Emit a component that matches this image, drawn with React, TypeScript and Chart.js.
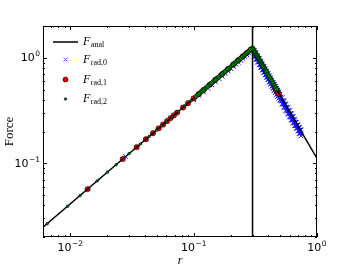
import React, { useEffect, useRef } from 'react';
import { Chart, registerables } from 'chart.js';

Chart.register(...registerables);

// ---- axis limits & tick labels ----
const xMin = 0.006;
const xMax = 1;
const yMin = 0.02;
const yMax = 2;
const xMajor = [0.01, 0.1, 1];
const xTickExp = ['\u22122', '\u22121', '0'];
const yMajor = [0.1, 1];
const yTickExp = ['\u22121', '0'];
const tickBase = '10';

// ---- series ----
const analR = [0.006, 0.3, 1.0];
const analF = [0.02472, 1.236, 0.1112];
const vlineR = [0.3, 0.3];
const vlineF = [0.02, 2];

const rad0R = [0.028, 0.10, 0.11, 0.12, 0.13, 0.14, 0.15, 0.16, 0.17, 0.18, 0.19, 0.20, 0.21, 0.22, 0.23, 0.24, 0.25, 0.26, 0.27, 0.28, 0.29, 0.30,
  0.31, 0.31, 0.31, 0.32, 0.32, 0.32, 0.33, 0.33, 0.33, 0.34, 0.34, 0.34, 0.35, 0.35, 0.35, 0.36, 0.36, 0.36, 0.37, 0.37, 0.37,
  0.38, 0.38, 0.38, 0.39, 0.39, 0.39, 0.40, 0.40, 0.40, 0.41, 0.41, 0.41, 0.42, 0.42, 0.42, 0.43, 0.43, 0.43, 0.44, 0.44, 0.44,
  0.45, 0.45, 0.45, 0.46, 0.46, 0.46, 0.47, 0.47, 0.47, 0.48, 0.48, 0.48, 0.49, 0.49, 0.49, 0.50, 0.50, 0.50,
  0.52, 0.52, 0.52, 0.54, 0.54, 0.54, 0.56, 0.56, 0.56, 0.58, 0.58, 0.58, 0.60, 0.60, 0.60, 0.62, 0.62, 0.62,
  0.64, 0.64, 0.64, 0.66, 0.66, 0.66, 0.68, 0.68, 0.68, 0.70, 0.70, 0.70, 0.72, 0.72, 0.72, 0.74, 0.74, 0.74,
  0.315, 0.315, 0.325, 0.325, 0.335, 0.335, 0.345, 0.345, 0.355, 0.355, 0.365, 0.365, 0.375, 0.375, 0.385, 0.385,
  0.395, 0.395, 0.405, 0.405, 0.415, 0.415, 0.425, 0.425, 0.435, 0.435, 0.445, 0.445, 0.455, 0.455, 0.465, 0.465,
  0.475, 0.475, 0.485, 0.485, 0.495, 0.495, 0.51, 0.51, 0.53, 0.53, 0.55, 0.55, 0.57, 0.57, 0.59, 0.59,
  0.61, 0.61, 0.63, 0.63, 0.65, 0.65, 0.67, 0.67, 0.69, 0.69, 0.71, 0.71, 0.73, 0.73];
const rad0F = [0.116, 0.40, 0.44, 0.475, 0.515, 0.555, 0.59, 0.635, 0.67, 0.715, 0.75, 0.79, 0.83, 0.87, 0.91, 0.95, 0.99, 1.03, 1.065, 1.11, 1.145, 1.19,
  1.175, 1.100, 1.035, 1.103, 1.032, 0.970, 1.037, 0.970, 0.912, 0.978, 0.914, 0.859, 0.922, 0.862, 0.811, 0.872, 0.815, 0.767, 0.825, 0.771, 0.726,
  0.782, 0.731, 0.688, 0.742, 0.694, 0.653, 0.706, 0.660, 0.621, 0.672, 0.628, 0.591, 0.640, 0.598, 0.563, 0.610, 0.571, 0.537, 0.583, 0.545, 0.513,
  0.557, 0.521, 0.490, 0.534, 0.499, 0.470, 0.511, 0.478, 0.450, 0.490, 0.459, 0.432, 0.470, 0.440, 0.414, 0.451, 0.422, 0.397,
  0.417, 0.390, 0.367, 0.387, 0.362, 0.341, 0.361, 0.337, 0.317, 0.336, 0.314, 0.295, 0.314, 0.293, 0.276, 0.294, 0.274, 0.258,
  0.275, 0.257, 0.242, 0.259, 0.242, 0.228, 0.244, 0.228, 0.214, 0.230, 0.216, 0.203, 0.218, 0.204, 0.192, 0.206, 0.193, 0.182,
  1.110, 1.031, 1.042, 0.969, 0.981, 0.912, 0.925, 0.859, 0.873, 0.811, 0.827, 0.768, 0.783, 0.728, 0.743, 0.690,
  0.706, 0.656, 0.671, 0.624, 0.640, 0.594, 0.610, 0.567, 0.582, 0.541, 0.556, 0.517, 0.532, 0.494, 0.509, 0.473,
  0.488, 0.454, 0.468, 0.435, 0.449, 0.418, 0.423, 0.393, 0.392, 0.364, 0.364, 0.338, 0.339, 0.315, 0.316, 0.294,
  0.296, 0.275, 0.277, 0.258, 0.261, 0.242, 0.245, 0.228, 0.231, 0.215, 0.218, 0.203, 0.207, 0.192];

const rad1R = [0.0138, 0.0266, 0.0345, 0.041, 0.0468, 0.052, 0.0565, 0.061, 0.065, 0.069, 0.0733, 0.082, 0.09, 0.10, 0.11, 0.12, 0.135, 0.15, 0.17, 0.19, 0.21, 0.23, 0.25, 0.27, 0.29,
  0.46, 0.47, 0.48, 0.49];
const rad1F = [0.0569, 0.1096, 0.1421, 0.1689, 0.1928, 0.2142, 0.2328, 0.2513, 0.2678, 0.2843, 0.3020, 0.3378, 0.3708, 0.412, 0.453, 0.494, 0.556, 0.618, 0.700, 0.783, 0.865, 0.948, 1.030, 1.112, 1.195,
  0.515, 0.493, 0.473, 0.454];

const rad2R = [0.0065, 0.0095, 0.012, 0.0165, 0.02, 0.0235, 0.03, 0.037, 0.0435, 0.05, 0.055, 0.06, 0.067, 0.075, 0.085, 0.095, 0.105, 0.115, 0.125, 0.135, 0.145, 0.155, 0.165, 0.175, 0.185, 0.195,
  0.205, 0.215, 0.225, 0.235, 0.245, 0.255, 0.265, 0.275, 0.285, 0.295, 0.30,
  0.11, 0.12, 0.13, 0.14, 0.15, 0.16, 0.17, 0.18, 0.19, 0.21, 0.22, 0.23, 0.24, 0.25, 0.26, 0.27, 0.28, 0.29,
  0.305, 0.31, 0.315, 0.32, 0.325, 0.33, 0.335, 0.34, 0.345, 0.35, 0.355, 0.36, 0.365, 0.37, 0.375, 0.38, 0.385, 0.39, 0.40, 0.41, 0.42, 0.43, 0.44, 0.45, 0.46, 0.47];
const rad2F = [0.0268, 0.0391, 0.0494, 0.068, 0.0824, 0.0968, 0.1236, 0.1524, 0.1792, 0.206, 0.2266, 0.2472, 0.276, 0.309, 0.350, 0.391, 0.433, 0.474, 0.515, 0.556, 0.597, 0.639, 0.680, 0.721, 0.762, 0.803,
  0.845, 0.886, 0.927, 0.968, 1.009, 1.051, 1.092, 1.133, 1.174, 1.215, 1.236,
  0.453, 0.494, 0.536, 0.577, 0.618, 0.659, 0.700, 0.742, 0.783, 0.865, 0.906, 0.948, 0.989, 1.030, 1.071, 1.112, 1.154, 1.195,
  1.195, 1.157, 1.121, 1.086, 1.053, 1.021, 0.991, 0.962, 0.934, 0.908, 0.882, 0.858, 0.835, 0.812, 0.791, 0.770, 0.750, 0.731, 0.695, 0.662, 0.630, 0.601, 0.574, 0.549, 0.526, 0.503];

const legendSubs = ['anal', 'rad,0', 'rad,1', 'rad,2'];

const pts = (xs: number[], ys: number[]) => xs.map((x, i) => ({ x, y: ys[i] }));

function logTicks(min: number, max: number) {
  const out: { value: number; major: boolean }[] = [];
  const e0 = Math.floor(Math.log10(min));
  const e1 = Math.ceil(Math.log10(max));
  for (let e = e0; e <= e1; e++) {
    for (let m = 1; m <= 9; m++) {
      const v = parseFloat((m * Math.pow(10, e)).toPrecision(6));
      if (v >= min * 0.9999 && v <= max * 1.0001) out.push({ value: v, major: m === 1 });
    }
  }
  return out;
}

const BASE_FONT = '11px "DejaVu Sans"';
const EXP_FONT = '7.5px "DejaVu Sans"';

function measureLabel(ctx: CanvasRenderingContext2D, exp: string) {
  ctx.font = BASE_FONT;
  const wb = ctx.measureText(tickBase).width;
  ctx.font = EXP_FONT;
  const we = ctx.measureText(exp).width;
  return { wb, we, w: wb + we + 0.5 };
}

function drawLabel(ctx: CanvasRenderingContext2D, x: number, baseline: number, exp: string) {
  const m = measureLabel(ctx, exp);
  ctx.textBaseline = 'alphabetic';
  ctx.textAlign = 'left';
  ctx.fillStyle = '#000';
  ctx.font = BASE_FONT;
  ctx.fillText(tickBase, x, baseline);
  ctx.font = EXP_FONT;
  ctx.fillText(exp, x + m.wb + 0.5, baseline - 5.2);
}

const framePlugin = {
  id: 'frameTicksLegend',
  afterDraw(chart: any) {
    const { ctx, chartArea: a, scales } = chart;
    const xs = scales.x;
    const ys = scales.y;
    ctx.save();
    ctx.strokeStyle = '#000';
    ctx.lineWidth = 1;
    ctx.beginPath();
    for (const t of xs.ticks) {
      const px = Math.round(xs.getPixelForValue(t.value)) + 0.5;
      const len = t.major ? 4 : 2;
      ctx.moveTo(px, a.bottom); ctx.lineTo(px, a.bottom - len);
      ctx.moveTo(px, a.top); ctx.lineTo(px, a.top + len);
    }
    for (const t of ys.ticks) {
      const py = Math.round(ys.getPixelForValue(t.value)) + 0.5;
      const len = t.major ? 4 : 2;
      ctx.moveTo(a.left, py); ctx.lineTo(a.left + len, py);
      ctx.moveTo(a.right, py); ctx.lineTo(a.right - len, py);
    }
    ctx.stroke();
    ctx.strokeRect(a.left + 0.5, a.top + 0.5, a.right - a.left - 1, a.bottom - a.top - 1);

    xMajor.forEach((v, i) => {
      const px = xs.getPixelForValue(v);
      const m = measureLabel(ctx, xTickExp[i]);
      drawLabel(ctx, px - m.w / 2, a.bottom + 14, xTickExp[i]);
    });
    yMajor.forEach((v, i) => {
      const py = ys.getPixelForValue(v);
      const m = measureLabel(ctx, yTickExp[i]);
      drawLabel(ctx, a.left - 3 - m.w, py + 3.5, yTickExp[i]);
    });

    const ds = chart.data.datasets;
    const rows = [42, 59.5, 79.5, 99];
    const mx = 65.5;
    const tx = 83;
    ctx.textBaseline = 'middle';
    ctx.textAlign = 'left';
    for (let i = 0; i < 4; i++) {
      const y = rows[i];
      const d = ds.find((q: any) => q.legendIndex === i);
      if (i === 0) {
        ctx.strokeStyle = d.borderColor;
        ctx.lineWidth = 1.5;
        ctx.beginPath();
        ctx.moveTo(53, y); ctx.lineTo(78, y);
        ctx.stroke();
      } else if (d.pointStyle === 'crossRot') {
        ctx.strokeStyle = 'rgba(60,60,255,0.8)';
        ctx.lineWidth = 1;
        const r = 2;
        ctx.beginPath();
        ctx.moveTo(mx - r, y - r); ctx.lineTo(mx + r, y + r);
        ctx.moveTo(mx + r, y - r); ctx.lineTo(mx - r, y + r);
        ctx.stroke();
      } else {
        ctx.fillStyle = d.pointBackgroundColor;
        ctx.strokeStyle = d.pointBorderColor;
        ctx.lineWidth = d.pointBorderWidth;
        ctx.beginPath();
        ctx.arc(mx, y, i === 3 ? 1.3 : 2.6, 0, Math.PI * 2);
        ctx.fill();
        ctx.stroke();
      }
      ctx.fillStyle = '#000';
      ctx.font = 'italic 12px "Liberation Serif"';
      ctx.fillText('F', tx, y);
      const w = ctx.measureText('F').width;
      ctx.font = '8px "Liberation Serif"';
      ctx.fillText(legendSubs[i], tx + w + 0.5, y + 3);
    }
    ctx.restore();
  },
};

export default function App() {
  const ref = useRef<HTMLCanvasElement | null>(null);
  useEffect(() => {
    if (!ref.current) return;
    const chart = new Chart(ref.current, {
      type: 'scatter',
      data: {
        datasets: [
          {
            label: 'F_rad,2', legendIndex: 3, order: 0,
            data: pts(rad2R, rad2F),
            pointStyle: 'circle',
            pointRadius: (c: any) => (c.raw && c.raw.x > 0.1 ? 2.2 : 1.3),
            pointBackgroundColor: '#008000', pointBorderColor: '#000', pointBorderWidth: 0.6,
            backgroundColor: '#008000', borderColor: '#000',
          } as any,
          {
            label: 'F_anal', legendIndex: 0, order: 1,
            data: pts(analR, analF), showLine: true,
            borderColor: '#000', borderWidth: 1.5, pointRadius: 0, fill: false,
          } as any,
          {
            label: 'vline', legendIndex: -1, order: 1,
            data: pts(vlineR, vlineF), showLine: true,
            borderColor: '#000', borderWidth: 1.5, pointRadius: 0, fill: false,
          } as any,
          {
            label: 'F_rad,1', legendIndex: 2, order: 2,
            data: pts(rad1R, rad1F),
            pointStyle: 'circle', pointRadius: 2.7,
            pointBackgroundColor: '#e00000', pointBorderColor: '#000', pointBorderWidth: 0.5,
            backgroundColor: '#e00000', borderColor: '#000',
          } as any,
          {
            label: 'F_rad,0', legendIndex: 1, order: 3,
            data: pts(rad0R, rad0F),
            pointStyle: 'crossRot', pointRadius: 3.4,
            pointBackgroundColor: '#1010ff', pointBorderColor: '#1010ff', pointBorderWidth: 1,
            backgroundColor: '#1010ff', borderColor: '#1010ff',
          } as any,
        ],
      },
      options: {
        animation: false,
        responsive: false,
        maintainAspectRatio: false,
        layout: { padding: { left: 0, right: 35, top: 26, bottom: 0 } },
        plugins: { legend: { display: false }, tooltip: { enabled: false } },
        scales: {
          x: {
            type: 'logarithmic', min: xMin, max: xMax,
            afterBuildTicks: (s: any) => { s.ticks = logTicks(xMin, xMax); },
            afterFit: (s: any) => { s.height = 27; },
            grid: { display: false }, border: { display: false },
            ticks: { display: false },
            title: {
              display: true, text: 'r', color: '#000',
              font: { family: 'Liberation Serif', style: 'italic', size: 12 },
              padding: { top: 0, bottom: -4 },
            },
          },
          y: {
            type: 'logarithmic', min: yMin, max: yMax,
            afterBuildTicks: (s: any) => { s.ticks = logTicks(yMin, yMax); },
            afterFit: (s: any) => { s.width = 43; },
            grid: { display: false }, border: { display: false },
            ticks: { display: false },
            title: {
              display: true, text: 'Force', color: '#000',
              font: { family: 'Liberation Serif', size: 13 },
              padding: { top: 2, bottom: 0 },
            },
          },
        },
      } as any,
      plugins: [framePlugin],
    });
    return () => chart.destroy();
  }, []);
  return (
    <div style={{ position: 'fixed', left: 0, top: 0, width: 352, height: 264, background: '#fff' }}>
      <canvas ref={ref} width={352} height={264} style={{ display: 'block' }} />
    </div>
  );
}
